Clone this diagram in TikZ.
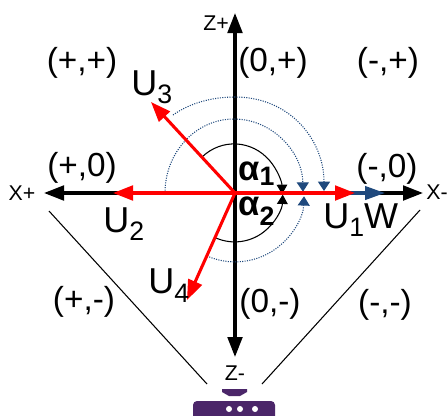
\documentclass[tikz,border=0pt]{standalone}
\usepackage{fontspec}
\setmainfont{Liberation Sans}
\usetikzlibrary{arrows.meta}
\definecolor{vecblue}{RGB}{31,73,125}
\definecolor{devpurple}{RGB}{75,38,105}
\newcommand{\lowsub}[2][6pt]{\raisebox{-#1}{\fontsize{20}{20}\selectfont #2}}
\tikzset{
  axisline/.style={black, line width=2.3pt, -{Triangle[length=15pt,width=11pt]}},
  vecline/.style={red, line width=2.3pt, -{Triangle[length=15pt,width=11pt]}},
  anglearc/.style={black, line width=0.8pt, -{Triangle[length=7pt,width=8pt]}},
  dotarc/.style={vecblue, line width=0.8pt, densely dotted, -{Triangle[length=7pt,width=9pt]}},
  signlabel/.style={font=\fontsize{25}{25}\selectfont, inner sep=0pt},
  veclabel/.style={font=\fontsize{27}{27}\selectfont, inner sep=0pt, anchor=base west},
  anglelabel/.style={font=\fontsize{26}{26}\selectfont\bfseries, inner sep=0pt, anchor=base west},
  axislabel/.style={font=\fontsize{16}{16}\selectfont, inner sep=0pt},
}
\begin{document}
\begin{tikzpicture}[
  x=0.75pt, y=-0.75pt,
]
\useasboundingbox (0,0) rectangle (448,415);

% Ends of the axes and vectors
\coordinate (origin) at (235,193);
\coordinate (xplus) at (44,193);
\coordinate (xminus) at (423,193);
\coordinate (zplus) at (235,13);
\coordinate (zminus) at (235,357);
\coordinate (wend) at (385,193);
\coordinate (uone) at (355,193);
\coordinate (utwo) at (113,193);
\coordinate (uthree) at (151,102);
\coordinate (ufour) at (187,300);

% Axes
\draw[axisline] (origin) -- (xplus);
\draw[axisline] (origin) -- (xminus);
\draw[axisline] (origin) -- (zplus);
\draw[axisline] (origin) -- (zminus);
\draw[vecblue, line width=2.3pt, -{Triangle[length=15pt,width=10pt]}] (origin) -- (wend);

% Angles (black), dotted ones (blue)
\draw[anglearc] (202,157) arc[start angle=132, end angle=1, x radius=48, y radius=-51];
\draw[anglearc] (216,238) arc[start angle=-113, end angle=-2, x radius=48, y radius=-49];
\draw[dotarc] (165,193) arc[start angle=180, end angle=1, x radius=69, y radius=-74];
\draw[dotarc] (207,256) arc[start angle=-114, end angle=-2, x radius=69, y radius=-68];
\draw[dotarc] (173,115) .. controls (190,103) and (212,97) .. (235,97)
  .. controls (290,97) and (324,140) .. (324,191);

% Vectors
\draw[vecline] (origin) -- (uone);
\draw[vecline] (origin) -- (utwo);
\draw[vecline] (origin) -- (uthree);
\draw[vecline] (origin) -- (ufour);

% Sign labels
\foreach \px/\py/\lbl/\nm in {82/63/{(+,+)}/pp, 273/63/{(0,+)}/zp, 388/63/{(-,+)}/mp,
  82/168/{(+,0)}/pz, 387/169/{(-,0)}/mz,
  84/302/{(+,-)}/pm, 270/304/{(0,-)}/zm, 385/305/{(-,-)}/mm} {
  \node[signlabel] (sign\nm) at (\px,\py) {\lbl};
}

% Axis labels
\node[axislabel] (xplabel) at (22,193) {X+};
\node[axislabel, anchor=east] (xmlabel) at (448,192) {X-};
\node[axislabel] (zplabel) at (216,23) {Z+};
\node[axislabel] (zmlabel) at (235,373) {Z-};

% Vector labels
\node[veclabel] (uthreelabel) at (131,95) {U\lowsub{3}};
\node[veclabel] (utwolabel) at (103,232) {U\lowsub{2}};
\node[veclabel] (uonelabel) at (323,228) {U\lowsub{1}W};
\node[veclabel] (ufourlabel) at (148,293) {U\lowsub[7pt]{4}};
\node[anglelabel] (aonelabel) at (238,180) {α\lowsub[4pt]{1}};
\node[anglelabel] (atwolabel) at (238,215) {α\lowsub[7.5pt]{2}};

% View cone
\coordinate (coneleft) at (49,211);
\coordinate (coneright) at (420,210);
\coordinate (devleft) at (207,384);
\coordinate (devright) at (262,384);
\draw[line width=0.8pt] (coneleft) -- (devleft);
\draw[line width=0.8pt] (coneright) -- (devright);

% Device
\fill[devpurple] (222,389) -- (247,389) -- (247,392) -- (240,396) -- (229,396) -- (222,392) -- cycle;
\fill[devpurple, rounded corners=3pt] (193,401) rectangle (275,420);
\foreach \px in {229,240,255} {
  \fill[white] (\px,409) circle[radius=3];
}
\end{tikzpicture}
\end{document}
